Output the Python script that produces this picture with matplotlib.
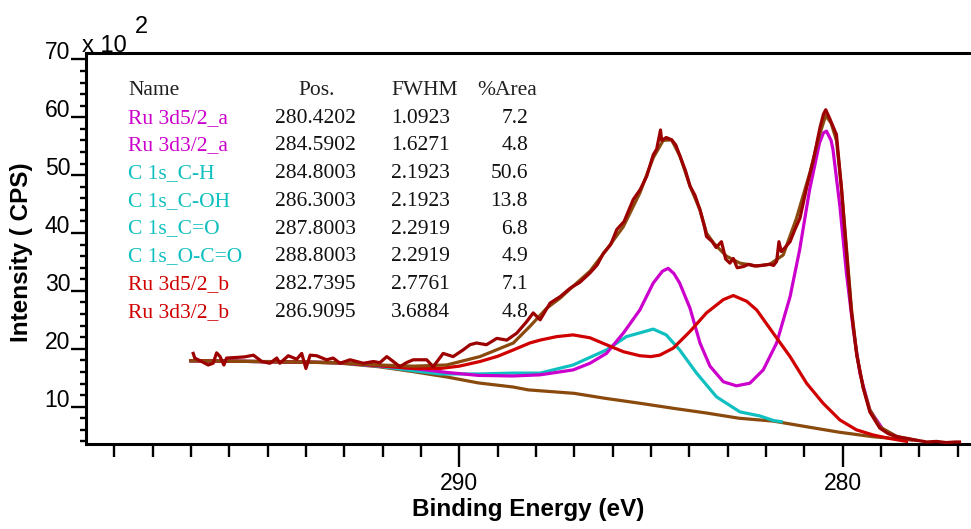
import matplotlib
matplotlib.use("Agg")
import matplotlib.pyplot as plt
from matplotlib.ticker import FixedLocator, MultipleLocator

# ---------------------------------------------------------------------------
# Values (intensity in units of 10^2 CPS)
# ---------------------------------------------------------------------------
data_be = [296.94, 296.90, 296.72, 296.55, 296.42, 296.33, 296.24, 296.14, 296.07, 295.81,
           295.60, 295.37, 295.15, 294.94, 294.76, 294.68, 294.46, 294.24, 294.11, 294.00,
           293.89, 293.72, 293.46, 293.29, 293.11, 292.85, 292.50, 292.24, 292.07, 291.89,
           291.72, 291.55, 291.38, 291.20, 290.85, 290.68, 290.42, 290.16, 289.90, 289.72,
           289.55, 289.29, 289.02, 288.76, 288.50, 288.24, 288.07, 287.89, 287.63, 287.37,
           287.10, 286.85, 286.59, 286.40, 286.24, 286.05, 285.89, 285.70, 285.46, 285.28,
           285.11, 284.94, 284.85, 284.75, 284.72, 284.60, 284.46, 284.35, 284.24, 284.10,
           283.98, 283.85, 283.72, 283.60, 283.55, 283.40, 283.30, 283.16, 283.05, 282.94,
           282.85, 282.75, 282.59, 282.45, 282.30, 282.10, 281.90, 281.80, 281.72, 281.66,
           281.60, 281.50, 281.37, 281.25, 281.11, 280.94, 280.77, 280.59, 280.50, 280.44,
           280.35, 280.16, 280.03, 279.90, 279.77, 279.63, 279.46, 279.29, 279.03, 278.80,
           278.59, 278.30, 278.07, 277.80, 277.55, 277.30, 277.05, 276.95]
data_cps = [19.2, 18.4, 17.8, 17.2, 17.5, 19.3, 18.65, 17.2, 18.4, 18.5,
            18.6, 18.9, 17.8, 17.5, 18.4, 17.5, 18.8, 18.2, 19.2, 16.6,
            18.9, 18.8, 18.1, 18.4, 17.5, 18.1, 17.5, 17.8, 17.6, 18.65,
            17.8, 16.9, 17.6, 18.1, 18.1, 16.9, 19.2, 18.65, 19.8, 20.7,
            21.0, 20.7, 21.8, 21.5, 22.7, 24.7, 26.2, 25.0, 27.9, 29.0,
            30.5, 31.5, 33.1, 34.5, 36.5, 38.0, 40.6, 42.0, 45.8, 47.5,
            49.8, 53.5, 54.5, 57.8, 56.0, 56.5, 56.1, 55.2, 53.25, 50.8,
            48.1, 46.5, 44.0, 41.0, 39.4, 38.5, 37.5, 38.5, 35.5, 34.8,
            35.6, 34.0, 34.2, 34.6, 34.3, 34.4, 34.6, 34.4, 35.1, 38.5,
            36.8, 37.5, 38.5, 40.5, 42.6, 47.8, 52.4, 58.2, 60.5, 61.3,
            60.0, 57.0, 47.8, 36.8, 26.4, 18.9, 13.2, 9.1, 6.3, 5.3,
            4.8, 4.5, 4.2, 3.9, 4.0, 3.8, 3.9, 3.9]

env_be = [297.0, 293.1, 292.1, 291.2, 290.33, 289.46, 288.59, 288.16, 287.72, 287.37,
          287.03, 286.59, 286.16, 285.72, 285.29, 284.94, 284.68, 284.46, 284.24, 283.98,
          283.72, 283.55, 283.37, 283.03, 282.68, 282.24, 281.9, 281.55, 281.2, 280.85,
          280.6, 280.44, 280.3, 280.16, 280.03, 279.9, 279.77, 279.63, 279.46, 279.29,
          279.03, 278.6, 278.2]
env_cps = [17.95, 17.6, 17.2, 17.0, 17.2, 18.65, 21.0, 23.85, 27.0, 28.75,
           30.8, 33.4, 37.1, 41.1, 46.9, 53.0, 56.0, 56.1, 53.25, 48.1,
           44.0, 40.0, 38.3, 36.0, 34.8, 34.3, 34.6, 36.2, 42.6, 50.5,
           57.0, 60.3, 59.0, 56.0, 47.8, 37.5, 27.0, 19.0, 13.2, 9.5,
           6.5, 4.9, 4.3]

bg_be = [297.0, 296.0, 295.0, 294.0, 293.1, 292.1, 291.2, 290.3, 289.5, 288.6,
         288.2, 287.0, 286.2, 285.3, 284.4, 283.55, 282.7, 281.8, 281.0, 280.1,
         279.2, 278.3, 278.1]
bg_cps = [17.9, 17.85, 17.8, 17.7, 17.5, 16.9, 16.05, 15.1, 14.1, 13.4,
          12.9, 12.3, 11.45, 10.6, 9.7, 8.9, 8.0, 7.5, 6.6, 5.6,
          4.8, 4.3, 4.2]

ru_a_be = [297.0, 293.1, 292.0, 291.2, 290.3, 289.5, 288.6, 287.89, 287.03, 286.59,
           286.16, 285.72, 285.29, 284.94, 284.7, 284.55, 284.4, 284.25, 283.98, 283.72,
           283.46, 283.11, 282.77, 282.42, 282.07, 281.72, 281.37, 281.12, 280.86, 280.6,
           280.5, 280.42, 280.3, 280.25, 280.07, 279.9, 279.72, 279.55, 279.29, 278.94,
           278.51, 278.2]
ru_a_cps = [17.95, 17.6, 17.0, 16.6, 15.9, 15.4, 15.3, 15.5, 16.35, 17.5,
            19.2, 22.7, 26.7, 31.35, 33.4, 33.9, 33.0, 31.35, 27.0, 21.0,
            17.0, 14.3, 13.6, 14.05, 16.35, 21.0, 29.0, 37.1, 47.5, 55.6,
            57.3, 57.6, 56.0, 54.4, 44.6, 33.1, 23.3, 15.8, 9.4, 6.0,
            4.6, 4.3]

c1s_be = [297.0, 293.1, 292.1, 291.2, 290.5, 289.46, 288.6, 287.89, 287.03, 286.16,
          285.64, 284.94, 284.6, 284.25, 283.81, 283.29, 282.68, 282.16, 281.8, 281.6]
c1s_cps = [17.95, 17.6, 17.0, 16.2, 15.65, 15.65, 15.8, 15.8, 17.2, 19.8,
           22.1, 23.4, 22.4, 19.8, 15.8, 11.7, 9.1, 8.4, 7.6, 7.4]

ru_b_be = [297.0, 293.1, 292.1, 291.2, 290.5, 290.0, 289.46, 289.0, 288.59, 288.16,
           287.89, 287.46, 287.03, 286.59, 286.16, 285.72, 285.29, 285.0, 284.77, 284.42,
           283.98, 283.55, 283.11, 282.85, 282.5, 282.24, 281.81, 281.37, 280.94, 280.51,
           280.07, 279.64, 279.2, 278.77, 278.33]
ru_b_cps = [17.95, 17.6, 17.1, 16.6, 16.6, 17.0, 17.8, 18.7, 19.8, 21.0,
            21.5, 22.1, 22.4, 21.9, 20.7, 19.5, 18.8, 18.65, 18.9, 20.1,
            23.0, 26.2, 28.5, 29.2, 28.2, 26.7, 22.7, 18.65, 14.05, 10.6,
            7.7, 6.0, 5.1, 4.5, 4.0]

# fit report table
comp_names = ["Ru 3d5/2_a", "Ru 3d3/2_a", "C 1s_C-H", "C 1s_C-OH",
              "C 1s_C=O", "C 1s_O-C=O", "Ru 3d5/2_b", "Ru 3d3/2_b"]
comp_pos = ["280.4202", "284.5902", "284.8003", "286.3003",
            "287.8003", "288.8003", "282.7395", "286.9095"]
comp_fwhm = ["1.0923", "1.6271", "2.1923", "2.1923",
             "2.2919", "2.2919", "2.7761", "3.6884"]
comp_area = ["7.2", "4.8", "50.6", "13.8", "6.8", "4.9", "7.1", "4.8"]

x_major = [290, 280]
y_major = [10, 20, 30, 40, 50, 60, 70]

# colours
MAGENTA = "#cc00cc"
CYAN = "#10c0c0"
RED = "#d00000"
DARKRED = "#9c0000"
BROWN = "#8a4a0e"
comp_colors = [MAGENTA, MAGENTA, CYAN, CYAN, CYAN, CYAN, RED, RED]

# ---------------------------------------------------------------------------
W, H = 971, 529
fig = plt.figure(figsize=(W / 100, H / 100), dpi=100)
ax = fig.add_axes([85.5 / W, 1 - 444 / H, 1 - 85.5 / W, (444 - 53) / H])

lw = 2.3
ax.plot(bg_be, bg_cps, color=BROWN, lw=lw, zorder=2)
ax.plot(c1s_be, c1s_cps, color=CYAN, lw=lw, zorder=3)
ax.plot(ru_a_be, ru_a_cps, color=MAGENTA, lw=lw, zorder=3)
ax.plot(ru_b_be, ru_b_cps, color=RED, lw=lw, zorder=4)
ax.plot(env_be, env_cps, color=BROWN, lw=lw, zorder=5)
ax.plot(data_be, data_cps, color=DARKRED, lw=lw, zorder=6)

ax.set_xlim(299.75, 276.65)
ax.set_ylim(3.55, 71.1)

for side in ("top", "left", "bottom"):
    ax.spines[side].set_linewidth(2.2)
ax.spines["right"].set_visible(False)

ax.xaxis.set_major_locator(FixedLocator(x_major))
ax.xaxis.set_minor_locator(MultipleLocator(1))
ax.yaxis.set_major_locator(FixedLocator(y_major))
ax.yaxis.set_minor_locator(MultipleLocator(2))

tick_font = {"family": "Liberation Sans", "size": 16.5}
ax.tick_params(axis="x", which="major", direction="out", length=16.5, width=1.7, pad=3.5)
ax.tick_params(axis="x", which="minor", direction="out", length=9, width=1.7)
ax.tick_params(axis="y", which="major", direction="out", length=11, width=1.7, pad=0)
ax.tick_params(axis="y", which="minor", direction="out", length=4.5, width=1.7)
ax.set_xticklabels([str(v) for v in x_major], fontdict=tick_font)
ax.set_yticklabels([str(v) for v in y_major], fontdict=tick_font)
for lab in ax.get_yticklabels():
    lab.set_verticalalignment("baseline")

label_font = {"family": "Liberation Sans", "size": 17.5, "weight": "bold"}
ax.set_xlabel("Binding Energy (eV)", fontdict=label_font, labelpad=2)
fig.text(22 / W, 1 - 252 / H, "Intensity ( CPS)", rotation=90, ha="center", va="center",
         **label_font)

# multiplier
fig.text(82 / W, 1 - 52 / H, "x 10", family="Liberation Sans", size=17, va="baseline")
fig.text(135 / W, 1 - 33 / H, "2", family="Liberation Sans", size=17, va="baseline")

# component table
serif = {"family": "Liberation Serif", "size": 15.5, "va": "baseline"}
row0, dy = 95, 27.7
fig.text(128 / W, 1 - row0 / H, "Name", color="#202020", **serif)
fig.text(298 / W, 1 - row0 / H, "Pos.", color="#202020", **serif)
fig.text(391 / W, 1 - row0 / H, "FWHM", color="#202020", **serif)
fig.text(477 / W, 1 - row0 / H, "%Area", color="#202020", **serif)
for i, name in enumerate(comp_names):
    yy = 1 - (row0 + dy * (i + 1)) / H
    fig.text(128 / W, yy, name, color=comp_colors[i], **serif)
    fig.text(275 / W, yy, comp_pos[i], color="#111111", **serif)
    fig.text(391 / W, yy, comp_fwhm[i], color="#111111", **serif)
    fig.text(528 / W, yy, comp_area[i], color="#111111", ha="right", **serif)

fig.savefig("out.png", dpi=100)
